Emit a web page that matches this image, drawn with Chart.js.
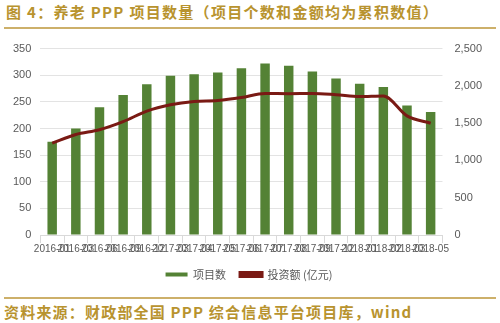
<!DOCTYPE html>
<html><head><meta charset="utf-8">
<script src="https://cdn.jsdelivr.net/npm/chart.js@4/dist/chart.umd.min.js"></script>
<style>
html,body{margin:0;padding:0;background:#fff;width:500px;height:323px;overflow:hidden;}
#title{position:absolute;left:6px;top:1px;font-family:"Noto Sans CJK SC";font-weight:bold;font-size:15px;color:#b8932e;white-space:nowrap;letter-spacing:1.3px;}
#tline{position:absolute;left:4px;top:27px;width:492px;height:2px;background:#cdb06a;}
#bline{position:absolute;left:4px;top:297px;width:492px;height:2px;background:#cdb06a;}
#src{position:absolute;left:4px;top:301px;font-family:"Noto Sans CJK SC";font-weight:bold;font-size:15px;color:#b8932e;white-space:nowrap;letter-spacing:1.2px;}
#wrap{position:absolute;left:0;top:30px;width:500px;height:262px;}
</style></head>
<body>
<div id="title">图 4：养老 PPP 项目数量（项目个数和金额均为累积数值）</div>
<div id="tline"></div>
<div id="wrap"><canvas id="c"></canvas></div>
<div id="bline"></div>
<div id="src">资料来源：财政部全国 PPP 综合信息平台项目库，wind</div>
<script>
const categories = ["2016-01","2016-03","2016-06","2016-09","2016-12","2017-03","2017-04","2017-05","2017-06","2017-07","2017-08","2017-09","2017-12","2018-01","2018-02","2018-03","2018-05"];
const projectCounts = [175,200,240,263,283,299,302,305,313,322,318,307,294,284,278,243,231];
const investment = [1232,1348,1412,1520,1662,1747,1791,1804,1843,1898,1895,1898,1881,1856,1864,1598,1499];
const leftTicks = [0,50,100,150,200,250,300,350];
const rightTicks = [0,500,1000,1500,2000,2500];

const tickFont = {family:"Liberation Sans", size:10};
new Chart(document.getElementById('c'), {
  type:'bar',
  data:{
    labels:categories,
    datasets:[
      {type:'bar',label:'项目数',data:projectCounts,backgroundColor:'#548235',borderWidth:0,yAxisID:'y',barPercentage:0.4,categoryPercentage:1,order:2},
      {type:'line',label:'投资额 (亿元)',data:investment,borderColor:'#7a1a14',backgroundColor:'#7a1a14',borderWidth:3,pointRadius:0,tension:0.4,cubicInterpolationMode:'monotone',yAxisID:'y1',order:1}
    ]
  },
  options:{
    responsive:true,maintainAspectRatio:false,animation:false,
    layout:{padding:{left:4,right:6,top:3,bottom:2}},
    plugins:{
      legend:{position:'bottom',labels:{boxWidth:22,boxHeight:4,font:{family:"Noto Sans CJK SC",size:11},color:'#595959',padding:14,sort:(a,b)=>a.datasetIndex-b.datasetIndex}},
      tooltip:{enabled:false}
    },
    scales:{
      x:{
        offset:true,
        grid:{offset:true,drawOnChartArea:false,drawTicks:true,tickLength:8,color:'#d9d9d9'},
        border:{color:'#d9d9d9'},
        ticks:{autoSkip:false,maxRotation:0,minRotation:0,font:tickFont,color:'#595959',padding:0}
      },
      y:{
        position:'left',min:0,max:350,
        afterBuildTicks:ax=>{ax.ticks=leftTicks.map(v=>({value:v}));},
        grid:{color:'#e3e3e3',drawTicks:false},
        border:{display:false},
        ticks:{font:{family:"Liberation Sans",size:11},color:'#595959',padding:9}
      },
      y1:{
        position:'right',min:0,max:2500,
        afterBuildTicks:ax=>{ax.ticks=rightTicks.map(v=>({value:v}));},
        grid:{display:false,drawTicks:false},
        border:{display:false},
        ticks:{font:{family:"Liberation Sans",size:11},color:'#595959',padding:12,callback:v=>v.toLocaleString('en-US')}
      }
    }
  }
});
</script>
</body></html>
